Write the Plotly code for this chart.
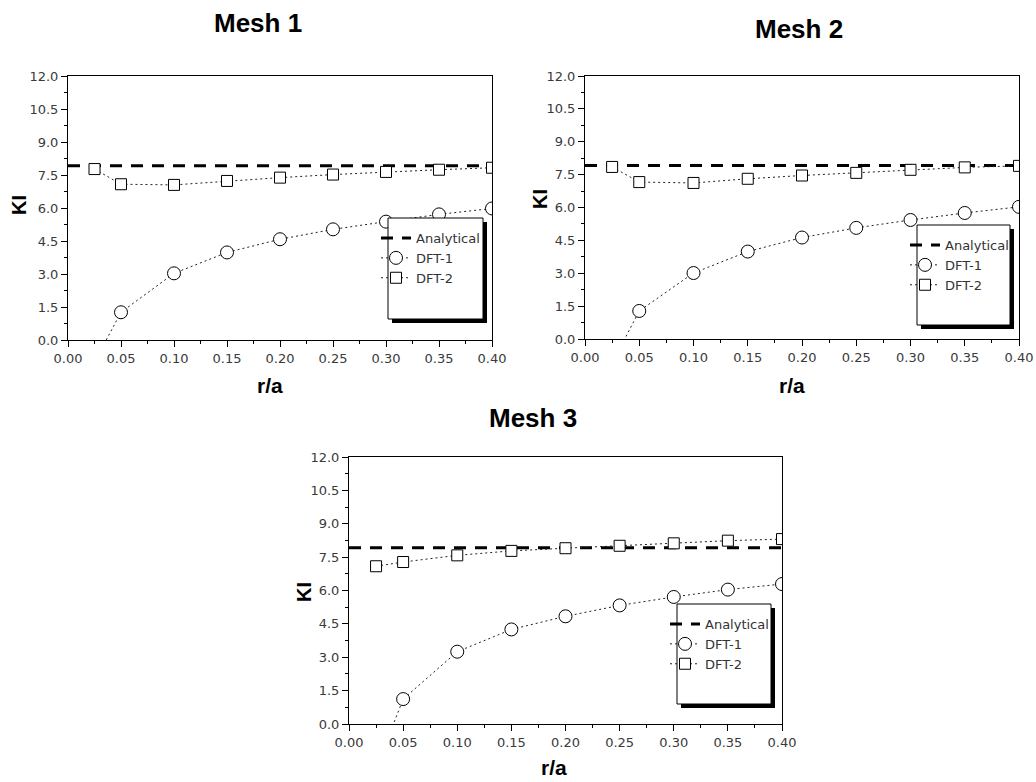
import plotly.graph_objects as go

# ---------------- data ----------------
r_a = [0.025, 0.05, 0.10, 0.15, 0.20, 0.25, 0.30, 0.35, 0.40]

analytical_x = [0.0, 0.025, 0.05, 0.10, 0.15, 0.20, 0.25, 0.30, 0.35, 0.40]
analytical = [7.92, 7.92, 7.92, 7.92, 7.92, 7.92, 7.92, 7.92, 7.92, 7.92]

mesh1_dft1 = [-1.0, 1.26, 3.03, 3.98, 4.58, 5.03, 5.38, 5.71, 5.98]
mesh1_dft2 = [7.77, 7.08, 7.05, 7.23, 7.38, 7.52, 7.64, 7.74, 7.83]

mesh2_dft1 = [-1.1, 1.28, 3.01, 3.99, 4.63, 5.07, 5.43, 5.75, 6.03]
mesh2_dft2 = [7.85, 7.16, 7.12, 7.31, 7.46, 7.58, 7.72, 7.83, 7.90]

mesh3_dft1 = [-2.0, 1.12, 3.25, 4.25, 4.84, 5.33, 5.71, 6.04, 6.29]
mesh3_dft2 = [7.09, 7.28, 7.58, 7.78, 7.90, 8.01, 8.12, 8.24, 8.31]

titles = ["Mesh 1", "Mesh 2", "Mesh 3"]
series_names = ["Analytical", "DFT-1", "DFT-2"]
x_title = "r/a"
y_title = "KI"

# ---------------- layout helpers ----------------
W, H = 1036, 782
FONT = "Liberation Sans, Arial, sans-serif"
TICKFONT = "DejaVu Sans, Liberation Sans, sans-serif"


def px(x):
    return x / W


def py(y):
    return 1 - y / H


# plot areas in pixels: (left, top, right, bottom)
panels = [
    (68, 76, 492, 340),
    (585, 76, 1019, 339),
    (349, 457, 782, 724),
]
legend_boxes = [
    (388, 218, 483, 319),
    (917, 225, 1010, 325),
    (677, 604, 771, 704),
]
title_pos = [(258, 23), (799, 29), (533, 418)]
ki_pos = [(19, 205), (540, 199), (304, 592)]
ra_pos = [(270, 386), (792, 386), (554, 767)]

data_sets = [
    (mesh1_dft1, mesh1_dft2),
    (mesh2_dft1, mesh2_dft2),
    (mesh3_dft1, mesh3_dft2),
]

fig = go.Figure()
legend_ids = ["legend", "legend2", "legend3"]

for i, (d1, d2) in enumerate(data_sets):
    xa = "x" if i == 0 else f"x{i+1}"
    ya = "y" if i == 0 else f"y{i+1}"
    lg = legend_ids[i]
    fig.add_trace(go.Scatter(
        x=analytical_x, y=analytical, mode="lines",
        name=series_names[0], xaxis=xa, yaxis=ya, legend=lg,
        line=dict(color="black", width=3, dash="12px,9px"),
    ))
    fig.add_trace(go.Scatter(
        x=r_a, y=d1, mode="lines+markers", name=series_names[1],
        xaxis=xa, yaxis=ya, legend=lg,
        line=dict(color="#222", width=1, dash="2px,3px"),
        marker=dict(symbol="circle", size=13, color="white",
                    line=dict(color="black", width=1)),
    ))
    fig.add_trace(go.Scatter(
        x=r_a, y=d2, mode="lines+markers", name=series_names[2],
        xaxis=xa, yaxis=ya, legend=lg,
        line=dict(color="#222", width=1, dash="2px,3px"),
        marker=dict(symbol="square", size=11, color="white",
                    line=dict(color="black", width=1)),
    ))

layout = dict(
    width=W, height=H,
    margin=dict(l=0, r=0, t=0, b=0, pad=0, autoexpand=False),
    paper_bgcolor="white", plot_bgcolor="white",
    font=dict(family=FONT, color="#333", size=12),
    showlegend=True,
)

axis_common = dict(
    showline=True, linecolor="black", linewidth=1, mirror=True,
    showgrid=False, zeroline=False, automargin=False,
    ticks="outside", ticklen=6, tickwidth=1, tickcolor="black",
    tickfont=dict(family=TICKFONT, size=13, color="#3a3a3a"),
)

shapes = []
annotations = []
for i, (l, t, r, b) in enumerate(panels):
    sfx = "" if i == 0 else str(i + 1)
    layout["xaxis" + sfx] = dict(
        axis_common, domain=[px(l), px(r)], range=[0, 0.4],
        anchor="y" + sfx, tickmode="linear", tick0=0, dtick=0.05,
        tickformat=".2f",
        minor=dict(ticks="outside", ticklen=3, dtick=0.025,
                   tickcolor="black", showgrid=False),
    )
    layout["yaxis" + sfx] = dict(
        axis_common, domain=[py(b), py(t)], range=[0, 12],
        anchor="x" + sfx, tickmode="linear", tick0=0, dtick=1.5,
        tickformat=".1f",
        minor=dict(ticks="outside", ticklen=3, dtick=0.75,
                   tickcolor="black", showgrid=False),
    )
    # legend frame with shadow
    bl, bt, br, bb = legend_boxes[i]
    shapes.append(dict(type="rect", xref="paper", yref="paper",
                       x0=px(bl + 4), x1=px(br + 4), y0=py(bb + 4), y1=py(bt + 4),
                       fillcolor="black", line=dict(width=0), layer="above"))
    shapes.append(dict(type="rect", xref="paper", yref="paper",
                       x0=px(bl), x1=px(br), y0=py(bb), y1=py(bt),
                       fillcolor="white", line=dict(color="black", width=1),
                       layer="above"))
    layout[legend_ids[i]] = dict(
        x=px(bl - 12), y=py(bt + 5), xref="paper", yref="paper",
        xanchor="left", yanchor="top",
        bgcolor="rgba(0,0,0,0)", borderwidth=0,
        font=dict(family=TICKFONT, size=13, color="#333"),
        itemwidth=30, tracegroupgap=0,
    )
    tx, ty = title_pos[i]
    annotations.append(dict(text=f"<b>{titles[i]}</b>", x=px(tx), y=py(ty),
                            xref="paper", yref="paper", showarrow=False,
                            xanchor="center", yanchor="middle",
                            font=dict(family=FONT, size=26, color="black")))
    kx, ky = ki_pos[i]
    annotations.append(dict(text=f"<b>{y_title}</b>", x=px(kx), y=py(ky),
                            xref="paper", yref="paper", showarrow=False,
                            xanchor="center", yanchor="middle", textangle=-90,
                            font=dict(family=FONT, size=20, color="black")))
    rx, ry = ra_pos[i]
    annotations.append(dict(text=f"<b>{x_title}</b>", x=px(rx), y=py(ry),
                            xref="paper", yref="paper", showarrow=False,
                            xanchor="center", yanchor="middle",
                            font=dict(family=FONT, size=21, color="black")))

layout["shapes"] = shapes
layout["annotations"] = annotations
fig.update_layout(**layout)

fig.write_html("out.html")
